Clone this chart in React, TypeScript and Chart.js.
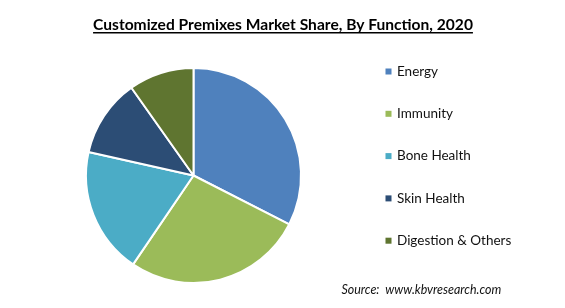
import React, { useEffect, useRef } from "react";
import { Chart, registerables } from "chart.js";

Chart.register(...registerables);

const titleText = "Customized Premixes Market Share, By Function, 2020";
const sourceText = "Source:  www.kbvresearch.com";
const categories = ["Energy", "Immunity", "Bone Health", "Skin Health", "Digestion & Others"];
const shares = [32.5, 27, 19, 11.7, 9.8];
const colors = ["#4F81BD", "#9BBB59", "#4BACC6", "#2C4D75", "#5F7530"];

const FONT = "Lato, 'Open Sans', sans-serif";

const decorPlugin = {
  id: "decor",
  afterDraw(chart: any) {
    const ctx = chart.ctx as CanvasRenderingContext2D;
    ctx.save();
    // title
    let size = 17;
    ctx.font = `bold ${size}px ${FONT}`;
    let w = ctx.measureText(titleText).width;
    size = size * (380 / w);
    ctx.font = `bold ${size}px ${FONT}`;
    w = ctx.measureText(titleText).width;
    const tx = 283 - w / 2;
    ctx.fillStyle = "#000000";
    ctx.textBaseline = "alphabetic";
    ctx.textAlign = "left";
    ctx.fillText(titleText, tx, 30);
    ctx.fillRect(tx, 32, w, 1.5);

    // legend
    const meta = chart.getDatasetMeta(0);
    const labels = chart.data.labels as string[];
    ctx.font = `13.5px ${FONT}`;
    ctx.textBaseline = "middle";
    labels.forEach((lab, i) => {
      const y = 71.5 + i * 42.3;
      const bg = (meta.data[i] as any).options.backgroundColor;
      ctx.fillStyle = bg;
      ctx.fillRect(385.5, y - 3, 6, 6);
      ctx.fillStyle = "#111111";
      ctx.fillText(lab, 397, y);
    });

    // source
    let ss = 13;
    ctx.font = `italic ${ss}px ${FONT}`;
    const sw = ctx.measureText(sourceText).width;
    ss = ss * (160 / sw);
    ctx.font = `italic ${ss}px ${FONT}`;
    ctx.fillStyle = "#111111";
    ctx.textBaseline = "middle";
    ctx.fillText(sourceText, 341.5, 289.5);
    ctx.restore();
  },
};

export default function App() {
  const ref = useRef<HTMLCanvasElement | null>(null);
  useEffect(() => {
    document.body.style.margin = "0";
    const chart = new Chart(ref.current as HTMLCanvasElement, {
      type: "pie",
      data: {
        labels: categories,
        datasets: [
          {
            data: shares,
            backgroundColor: colors,
            borderColor: "#ffffff",
            borderWidth: 2,
            hoverOffset: 0,
          },
        ],
      },
      options: {
        animation: false,
        responsive: false,
        maintainAspectRatio: false,
        events: [],
        layout: { padding: { left: 85, right: 263, top: 66, bottom: 23 } },
        plugins: {
          legend: { display: false },
          title: { display: false },
          tooltip: { enabled: false },
        },
      },
      plugins: [decorPlugin],
    });
    return () => chart.destroy();
  }, []);
  return (
    <div style={{ position: "absolute", left: 0, top: 0, width: 565, height: 308, background: "#ffffff" }}>
      <canvas ref={ref} width={565} height={308} style={{ width: 565, height: 308, display: "block" }} />
    </div>
  );
}
